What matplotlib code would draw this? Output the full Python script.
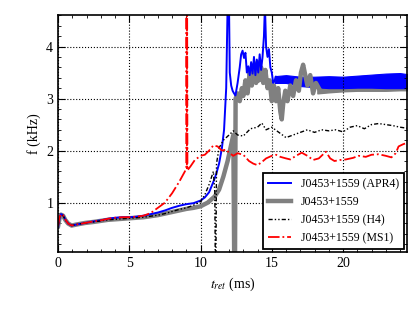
import matplotlib
matplotlib.use("Agg")
import matplotlib.pyplot as plt
from matplotlib.ticker import MultipleLocator

plt.rcParams['font.family'] = ['Liberation Serif', 'DejaVu Serif']
plt.rcParams['mathtext.fontset'] = 'stix'

# J0453+1559 (APR4) - blue
t_apr4 = [0, 0.1, 0.2, 0.35, 0.5, 0.7, 0.95, 1.3, 1.9, 2.5, 3.0, 3.5, 4.0, 4.5, 5.0,
          5.5, 6.0, 6.5, 7.0, 7.5, 8.0, 8.5, 9.0, 9.5, 10.0, 10.3, 10.6, 10.9, 11.1,
          11.3, 11.5, 11.65, 11.8, 11.9, 11.97, 12.05, 12.15, 12.25, 12.35, 12.45,
          12.6, 12.75, 12.85, 12.95, 13.05, 13.15, 13.25, 13.35, 13.45, 13.55, 13.65,
          13.75, 13.85, 13.95, 14.05, 14.15, 14.25, 14.35, 14.45, 14.52, 14.6, 14.7,
          14.8, 14.9, 15.0, 15.1, 15.2, 15.3]
f_apr4 = [0.53, 0.70, 0.78, 0.76, 0.68, 0.60, 0.56, 0.58, 0.61, 0.64, 0.66, 0.69,
          0.71, 0.72, 0.72, 0.73, 0.75, 0.78, 0.81, 0.85, 0.90, 0.94, 0.97, 0.99,
          1.04, 1.10, 1.20, 1.40, 1.55, 1.75, 2.05, 2.40, 3.20, 4.80, 5.50, 3.50,
          3.25, 3.15, 3.10, 3.06, 3.30, 3.60, 3.85, 3.92, 3.78, 3.88, 3.50, 3.62,
          3.45, 3.70, 3.48, 3.80, 3.45, 3.75, 3.50, 3.85, 3.55, 3.80, 4.20, 4.80,
          4.00, 3.80, 3.95, 3.60, 3.50, 3.30, 3.35, 3.42]
# oscillation band of APR4 after 15 ms
t_apr4_band = [15.2, 16.0, 17.0, 18.0, 19.0, 20.0, 21.0, 22.0, 23.0, 24.0, 24.5]
lo_apr4_band = [3.30, 3.30, 3.24, 3.22, 3.20, 3.20, 3.21, 3.21, 3.20, 3.20, 3.20]
hi_apr4_band = [3.43, 3.45, 3.42, 3.42, 3.43, 3.42, 3.44, 3.46, 3.48, 3.49, 3.47]

# J0453+1559 - gray
t_base = [0, 0.1, 0.2, 0.35, 0.5, 0.7, 0.95, 1.3, 1.9, 2.5, 3.0, 3.5, 4.0, 4.5, 5.0,
          5.5, 6.0, 6.5, 7.0, 7.5, 8.0, 8.5, 9.0, 9.5, 10.0, 10.5, 11.0, 11.3, 11.6,
          11.9, 12.1, 12.3, 12.36, 12.42, 12.46, 12.6, 12.75, 12.9, 13.0, 13.15, 13.3,
          13.45, 13.6, 13.75, 13.9, 14.0, 14.1, 14.25, 14.4, 14.55, 14.7, 14.85, 15.0,
          15.15, 15.3, 15.45, 15.6, 15.7, 15.8, 15.95, 16.1, 16.3, 16.5, 16.7, 16.9,
          17.05, 17.2, 17.35, 17.5, 17.7, 17.9, 18.1, 18.3]
f_base = [0.55, 0.70, 0.77, 0.75, 0.67, 0.60, 0.56, 0.58, 0.61, 0.63, 0.65, 0.67,
          0.68, 0.69, 0.70, 0.71, 0.72, 0.74, 0.76, 0.79, 0.82, 0.85, 0.88, 0.90,
          0.93, 1.00, 1.12, 1.25, 1.50, 1.80, 2.05, 2.30, 0.00, 0.00, 3.00, 3.10,
          2.95, 3.20, 3.05, 3.35, 3.10, 3.50, 3.25, 3.65, 3.30, 3.70, 3.35, 3.60,
          3.30, 3.55, 3.20, 3.35, 2.95, 3.25, 2.95, 3.20, 2.75, 2.60, 2.90, 3.15,
          2.95, 3.25, 3.05, 3.35, 3.15, 3.50, 3.65, 3.45, 3.25, 3.45, 3.10, 3.30,
          3.20]
t_base_band = [18.2, 19.0, 20.0, 21.0, 22.0, 23.0, 24.0, 24.5]
lo_base_band = [3.10, 3.12, 3.14, 3.15, 3.15, 3.15, 3.16, 3.16]
hi_base_band = [3.40, 3.40, 3.40, 3.42, 3.42, 3.44, 3.45, 3.45]

# J0453+1559 (H4) - black
t_h4 = [0, 0.1, 0.2, 0.35, 0.5, 0.7, 0.95, 1.3, 1.9, 2.5, 3, 3.5, 4, 4.5, 5, 5.5, 6,
        6.5, 7, 7.5, 8, 8.5, 9, 9.5, 10, 10.3, 10.6, 10.9, 11.0, 11.03, 11.08, 11.12,
        11.3, 11.6, 12.0, 12.3, 12.6, 13.0, 13.5, 14.0, 14.3, 14.6, 15.0, 15.5, 16.0,
        16.5, 17.0, 17.5, 18.0, 18.5, 19.0, 19.5, 20.0, 20.5, 21.0, 21.5, 22.0, 22.5,
        23.0, 23.5, 24.0, 24.5]
f_h4 = [0.55, 0.70, 0.77, 0.75, 0.67, 0.60, 0.56, 0.58, 0.61, 0.63, 0.65, 0.67, 0.68,
        0.69, 0.70, 0.71, 0.72, 0.74, 0.76, 0.79, 0.83, 0.87, 0.90, 0.95, 1.02, 1.15,
        1.35, 1.60, 1.20, 0.00, 0.00, 1.75, 2.05, 2.20, 2.30, 2.38, 2.30, 2.28, 2.42,
        2.45, 2.53, 2.40, 2.45, 2.35, 2.25, 2.30, 2.35, 2.40, 2.35, 2.40, 2.38, 2.40,
        2.36, 2.45, 2.48, 2.42, 2.50, 2.52, 2.50, 2.48, 2.45, 2.43]

# J0453+1559 (MS1) - red
t_ms1 = [0, 0.1, 0.2, 0.35, 0.5, 0.7, 0.95, 1.3, 1.9, 2.5, 3, 3.5, 4, 4.5, 5, 5.5, 6,
         6.5, 7.0, 7.5, 8.0, 8.5, 8.9, 9.0, 9.01, 9.04, 9.05, 9.08, 9.3, 9.6, 10.0,
         10.3, 10.6, 10.9, 11.2, 11.5, 11.8, 12.0, 12.3, 12.6, 13.0, 13.4, 13.7, 14.0,
         14.3, 14.6, 15.0, 15.3, 15.6, 16.0, 16.3, 16.7, 17.1, 17.5, 17.9, 18.3, 18.8,
         19.1, 19.4, 19.8, 20.2, 20.7, 21.1, 21.6, 22.0, 22.5, 23.0, 23.4, 23.7, 23.9,
         24.2, 24.5]
f_ms1 = [0.55, 0.72, 0.78, 0.76, 0.68, 0.60, 0.56, 0.58, 0.61, 0.64, 0.66, 0.69, 0.71,
         0.72, 0.72, 0.73, 0.75, 0.80, 0.90, 1.00, 1.18, 1.40, 1.60, 1.68, 6.00, 1.66,
         6.00, 1.62, 1.70, 1.82, 1.90, 1.92, 2.00, 2.10, 2.08, 2.00, 2.02, 1.96, 1.90,
         1.95, 1.92, 1.80, 1.75, 1.72, 1.78, 1.85, 1.90, 1.92, 1.88, 1.85, 1.83, 1.90,
         1.96, 1.90, 1.82, 1.85, 1.98, 1.85, 1.80, 1.82, 1.83, 1.86, 1.90, 1.88, 1.92,
         1.93, 1.90, 1.87, 1.95, 2.08, 2.12, 2.15]

fig = plt.figure(figsize=(4.15, 3.12), dpi=100)
ax = fig.add_axes([0.14, 0.192, 0.841, 0.759])

ax.fill_between(t_base_band, lo_base_band, hi_base_band, color='gray', lw=1)
l_base, = ax.plot(t_base, f_base, color='gray', lw=3.2, label='J0453+1559')
ax.fill_between(t_apr4_band, lo_apr4_band, hi_apr4_band, color='b', lw=0.8)
l_apr4, = ax.plot(t_apr4, f_apr4, color='b', lw=1.4, label='J0453+1559 (APR4)')
l_h4, = ax.plot(t_h4, f_h4, color='k', lw=1,
                dashes=(3, 1.5, 1, 1.5, 1, 1.5), label='J0453+1559 (H4)')
l_ms1, = ax.plot(t_ms1, f_ms1, color='r', lw=1.3, ls='-.', label='J0453+1559 (MS1)')

ax.set_xlim(0, 24.5)
ax.set_ylim(0.05, 4.6)
ax.xaxis.set_major_locator(MultipleLocator(5))
ax.xaxis.set_minor_locator(MultipleLocator(1))
ax.yaxis.set_major_locator(MultipleLocator(1))
ax.yaxis.set_minor_locator(MultipleLocator(0.2))
ax.tick_params(which='both', direction='in', top=True, right=True, labelsize=10)
ax.tick_params(which='major', length=5, width=0.8)
ax.tick_params(which='minor', length=2.5, width=0.6)
ax.grid(True, which='major', color='k', ls=':', lw=0.8)
for s in ax.spines.values():
    s.set_linewidth(1.2)

ax.set_xlabel(r'$t_{ret}$ (ms)', fontsize=10)
ax.set_ylabel('f (kHz)', fontsize=10)

leg = ax.legend(handles=[l_apr4, l_base, l_h4, l_ms1], loc='lower right',
                fontsize=8.5, fancybox=False, framealpha=1, borderaxespad=0.3)
leg.get_frame().set_edgecolor('k')
leg.get_frame().set_linewidth(1.3)

fig.savefig('out.png', dpi=100)
